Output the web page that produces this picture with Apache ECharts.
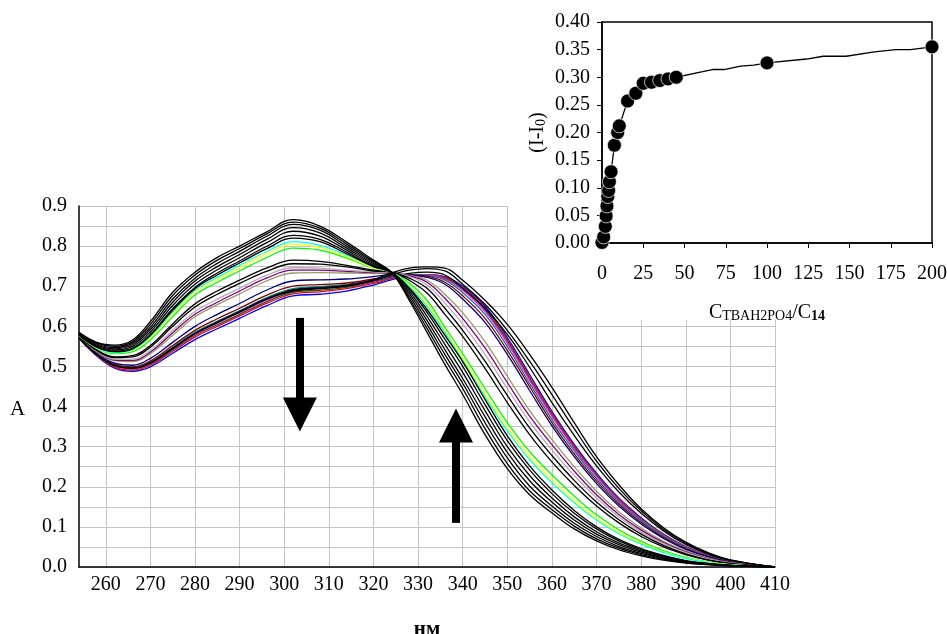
<!DOCTYPE html>
<html><head><meta charset="utf-8">
<script src="https://cdn.jsdelivr.net/npm/echarts@6/dist/echarts.min.js"></script>
<style>html,body{margin:0;padding:0;background:#fff}#c{width:947px;height:634px}</style>
</head><body><div id="c"></div>
<script>
// ---- Main spectra data (wavelength, nm) ----
const wavelengths = [254,258,262,266,270,275,280,285,290,296,302,308,314,320,324,328,332,336,340,345,350,355,360,365,370,375,380,385,390,395,400,410];
const xTickValues = [260,270,280,290,300,310,320,330,340,350,360,370,380,390,400,410];

const curveT1 = [.585,.560,.553,.566,.612,.685,.735,.772,.800,.835,.866,.850,.810,.765,.735,.665,.585,.505,.430,.330,.245,.180,.135,.095,.065,.043,.028,.017,.010,.006,.003,0];
const curveT2 = [.583,.558,.550,.562,.605,.677,.728,.765,.794,.830,.860,.845,.805,.762,.735,.670,.595,.518,.445,.345,.258,.190,.143,.102,.070,.047,.031,.019,.011,.006,.003,0];
const curveT3 = [.582,.556,.547,.558,.598,.668,.720,.757,.787,.824,.854,.840,.800,.759,.735,.676,.605,.530,.458,.360,.272,.202,.152,.109,.076,.051,.034,.021,.012,.007,.004,0];
const curveT4 = [.581,.553,.544,.554,.592,.660,.713,.749,.779,.816,.846,.833,.795,.756,.735,.682,.615,.542,.470,.375,.286,.215,.162,.117,.082,.056,.037,.023,.013,.007,.004,0];
const curveT5 = [.580,.551,.541,.550,.586,.652,.705,.741,.771,.808,.837,.825,.790,.753,.735,.688,.625,.555,.485,.390,.300,.228,.172,.125,.088,.060,.040,.025,.014,.008,.004,0];
const curveT6 = [.579,.549,.538,.546,.580,.644,.697,.733,.763,.799,.827,.817,.785,.750,.735,.693,.635,.568,.500,.405,.315,.242,.183,.134,.095,.065,.043,.027,.015,.008,.004,0];
const curveT7 = [.578,.548,.537,.544,.578,.640,.694,.728,.758,.793,.820,.811,.781,.749,.735,.696,.642,.578,.512,.418,.327,.252,.192,.141,.100,.069,.046,.029,.016,.009,.004,0];
const curveCyan = [.578,.547,.535,.542,.575,.636,.690,.722,.752,.786,.811,.802,.778,.748,.735,.700,.650,.585,.515,.425,.340,.268,.210,.160,.117,.083,.057,.036,.021,.011,.005,0];
const curveYellow = [.578,.546,.534,.540,.571,.631,.685,.717,.746,.780,.805,.797,.774,.746,.735,.703,.655,.590,.522,.433,.348,.276,.218,.166,.122,.087,.060,.038,.022,.012,.006,0];
const curveGreen = [.577,.545,.532,.537,.566,.624,.678,.710,.738,.771,.795,.790,.770,.745,.735,.708,.665,.598,.532,.445,.360,.288,.230,.177,.130,.093,.064,.041,.024,.013,.006,0];
const curveM1 = [.576,.541,.524,.527,.552,.606,.656,.688,.715,.745,.765,.762,.752,.740,.735,.715,.683,.630,.575,.495,.410,.330,.262,.203,.152,.110,.076,.050,.031,.017,.008,0];
const curveM2 = [.576,.540,.522,.524,.548,.600,.648,.680,.707,.737,.756,.755,.748,.738,.735,.720,.695,.645,.590,.513,.428,.347,.278,.216,.162,.118,.082,.054,.033,.018,.009,0];
const curveGray = [.575,.538,.518,.518,.540,.590,.637,.668,.695,.727,.746,.745,.740,.736,.734,.724,.703,.658,.606,.530,.445,.362,.292,.228,.172,.125,.087,.058,.036,.020,.010,0];
const curvePurple = [.575,.537,.516,.515,.536,.584,.630,.660,.688,.720,.740,.740,.737,.734,.733,.726,.710,.670,.620,.546,.460,.376,.305,.239,.180,.131,.092,.061,.038,.021,.011,0];
const curveOlive = [.574,.536,.514,.512,.532,.578,.624,.654,.681,.713,.733,.734,.733,.732,.732,.727,.715,.680,.634,.562,.476,.390,.318,.250,.189,.138,.097,.064,.040,.022,.011,0];
const curveNavy = [.573,.533,.508,.503,.520,.560,.600,.630,.657,.690,.713,.716,.718,.724,.729,.728,.722,.705,.668,.610,.530,.440,.352,.275,.208,.152,.107,.071,.044,.025,.012,0];
const curveDarkRed = [.572,.531,.505,.499,.514,.552,.590,.619,.645,.677,.700,.704,.708,.718,.726,.729,.725,.710,.676,.620,.540,.450,.360,.282,.214,.157,.111,.074,.046,.026,.013,0];
const curveTeal = [.572,.530,.503,.497,.511,.548,.585,.613,.639,.671,.694,.699,.704,.715,.724,.729,.727,.715,.684,.630,.550,.458,.368,.290,.220,.162,.115,.077,.048,.027,.013,0];
const curveL1 = [.572,.530,.503,.497,.510,.546,.583,.611,.637,.669,.692,.698,.703,.714,.724,.732,.735,.728,.695,.645,.580,.498,.410,.328,.252,.187,.134,.090,.056,.032,.016,0];
const curveMagenta = [.571,.529,.501,.495,.508,.544,.580,.608,.634,.665,.689,.694,.700,.712,.722,.728,.728,.718,.690,.637,.558,.466,.376,.296,.226,.166,.118,.079,.049,.028,.014,0];
const curveDarkGreen = [.571,.528,.500,.494,.506,.541,.577,.604,.630,.661,.685,.690,.697,.710,.721,.728,.729,.720,.694,.642,.563,.470,.380,.299,.229,.168,.120,.080,.050,.028,.014,0];
const curveRed = [.570,.527,.498,.491,.503,.538,.573,.600,.626,.657,.681,.686,.694,.707,.719,.727,.729,.722,.697,.646,.567,.474,.384,.302,.231,.170,.121,.081,.050,.029,.014,0];
const curveBlue = [.570,.526,.496,.488,.499,.533,.567,.594,.620,.651,.676,.680,.688,.703,.716,.726,.729,.724,.700,.650,.572,.480,.388,.306,.234,.172,.123,.082,.051,.029,.015,0];
const curveR2 = [.571,.529,.502,.496,.509,.545,.582,.610,.636,.668,.688,.694,.700,.714,.728,.740,.744,.738,.705,.655,.590,.513,.430,.345,.264,.196,.140,.094,.059,.034,.017,0];
const curveR1 = [.571,.529,.502,.496,.509,.545,.582,.610,.636,.668,.690,.696,.702,.716,.733,.745,.748,.745,.715,.665,.605,.530,.448,.360,.275,.205,.145,.098,.062,.036,.018,0];

const curves = [
  [curveBlue,'#0000ff'],[curveRed,'#ff0000'],[curveDarkGreen,'#1e5a1e'],[curveMagenta,'#ff00ff'],
  [curveL1,'#000000'],[curveTeal,'#008080'],[curveDarkRed,'#800000'],[curveNavy,'#000080'],
  [curveOlive,'#999966'],[curvePurple,'#800080'],[curveGray,'#b0b0b0'],[curveM2,'#000000'],[curveM1,'#000000'],
  [curveGreen,'#00ff00'],[curveYellow,'#ffff00'],[curveCyan,'#00ffff'],
  [curveT7,'#000000'],[curveT6,'#000000'],[curveT5,'#000000'],[curveT4,'#000000'],[curveT3,'#000000'],[curveT2,'#000000'],[curveT1,'#000000'],
  [curveR2,'#000000'],[curveR1,'#000000']
];

// arrows (annotation) in data units
const arrowDown = {x:303.5, from:0.621, to:0.38};
const arrowUp = {x:338.5, from:0.11, to:0.353};

// ---- Inset data ----
const ratioX = [0,1,2,2.5,3,3.5,4,4.5,5.5,7.5,9.5,10.5,15.5,20.5,25,30,35,40,45,100,200];
const deltaI = [0.001,0.011,0.030,0.049,0.067,0.084,0.095,0.111,0.129,0.177,0.200,0.212,0.257,0.271,0.289,0.291,0.294,0.297,0.300,0.326,0.355];
const lineExtraX = [61,67,74,84,92];
const lineExtraY = [0.310,0.314,0.314,0.320,0.322];
const lineExtraX2 = [124,134,148,165,178,187];
const lineExtraY2 = [0.333,0.338,0.338,0.346,0.350,0.350];

const FF = "'Liberation Serif','Times New Roman',serif";

const series = curves.map(([vals,color]) => ({
  type:'line', xAxisIndex:0, yAxisIndex:0, showSymbol:false, smooth:0.4,
  silent:true, lineStyle:{color, width:1.3}, z:2,
  data: wavelengths.map((w,i)=>[w, vals[i]])
}));

series[0].markLine = {
  silent:true, symbol:['none','triangle'], symbolSize:34, animation:false,
  label:{show:false}, emphasis:{disabled:true},
  lineStyle:{color:'#000', width:8, type:'solid', cap:'butt'},
  itemStyle:{color:'#000'},
  data:[
    [{coord:[arrowDown.x, arrowDown.from]},{coord:[arrowDown.x, arrowDown.to]}],
    [{coord:[arrowUp.x, arrowUp.from]},{coord:[arrowUp.x, arrowUp.to]}]
  ]
};

// inset line
const insetLine = [];
for (let i=0;i<ratioX.length-2;i++) insetLine.push([ratioX[i], deltaI[i]]);
lineExtraX.forEach((x,i)=>insetLine.push([x, lineExtraY[i]]));
insetLine.push([ratioX[ratioX.length-2], deltaI[deltaI.length-2]]);
lineExtraX2.forEach((x,i)=>insetLine.push([x, lineExtraY2[i]]));
insetLine.push([ratioX[ratioX.length-1], deltaI[deltaI.length-1]]);

series.push({
  type:'line', xAxisIndex:1, yAxisIndex:1, showSymbol:false, silent:true, z:12,
  lineStyle:{color:'#000', width:1.3}, data: insetLine
});
series.push({
  type:'scatter', xAxisIndex:1, yAxisIndex:1, silent:true, z:13, symbolSize:14,
  itemStyle:{color:'#000', borderColor:'#fff', borderWidth:0.7, opacity:1},
  data: ratioX.map((x,i)=>[x, deltaI[i]])
});

const chart = echarts.init(document.getElementById('c'), null, {renderer:'canvas'});
chart.setOption({
  animation:false,
  backgroundColor:'#fff',
  textStyle:{fontFamily:FF},
  grid:[
    {left:79, top:206, width:696, height:361, outerBoundsMode:'none', containLabel:false},
    {left:602, top:22, width:330, height:221, outerBoundsMode:'none', containLabel:false,
     show:true, borderColor:'#000', borderWidth:1.5, backgroundColor:'transparent', z:12}
  ],
  xAxis:[
    {type:'value', gridIndex:0, min:254, max:410,
     name:'нм', nameLocation:'middle', nameGap:52,
     nameTextStyle:{fontFamily:FF, fontSize:21, fontWeight:'bold', color:'#000'},
     axisLine:{show:true, onZero:false, lineStyle:{color:'#000', width:1.5}},
     axisTick:{show:false, customValues:xTickValues},
     axisLabel:{customValues:xTickValues, fontFamily:FF, fontSize:20, color:'#000', margin:8},
     splitLine:{show:true, lineStyle:{color:'#c4c4c4', width:1}}},
    {type:'value', gridIndex:1, min:0, max:200, interval:25, z:12,
     name:'{c|C}{s|TBAH2PO4}{c|/C}{b|14}', nameLocation:'middle', nameGap:56,
     nameTextStyle:{color:'#000', rich:{
       c:{fontFamily:FF, fontSize:20, lineHeight:24, verticalAlign:'bottom', color:'#000'},
       s:{fontFamily:FF, fontSize:14, lineHeight:20, verticalAlign:'bottom', color:'#000'},
       b:{fontFamily:FF, fontSize:14, fontWeight:'bold', lineHeight:10, verticalAlign:'bottom', color:'#000'}}},
     axisLine:{show:true, onZero:false, lineStyle:{color:'#000', width:1.5}},
     axisTick:{show:true, inside:false, length:5, lineStyle:{color:'#000'}},
     axisLabel:{fontFamily:FF, fontSize:20, color:'#000', margin:21},
     splitLine:{show:false}}
  ],
  yAxis:[
    {type:'value', gridIndex:0, min:0, max:0.9, interval:0.05,
     axisLine:{show:true, onZero:false, lineStyle:{color:'#000', width:1.5}},
     axisTick:{show:false},
     axisLabel:{fontFamily:FF, fontSize:20, color:'#000', margin:12,
       formatter:v=> (Math.round(v*100)%10===0 ? v.toFixed(1) : '')},
     splitLine:{show:true, lineStyle:{color:'#c4c4c4', width:1}}},
    {type:'value', gridIndex:1, min:0, max:0.4, interval:0.05, z:12,
     name:'{c|(I-I}{s|0}{c|)}', nameLocation:'middle', nameGap:54, nameRotate:90,
     nameTextStyle:{color:'#000', rich:{
       c:{fontFamily:FF, fontSize:20, lineHeight:24, verticalAlign:'bottom', color:'#000'},
       s:{fontFamily:FF, fontSize:14, lineHeight:10, verticalAlign:'bottom', color:'#000'}}},
     axisLine:{show:true, onZero:false, lineStyle:{color:'#000', width:1.5}},
     axisTick:{show:true, inside:false, length:5, lineStyle:{color:'#000'}},
     axisLabel:{fontFamily:FF, fontSize:20, color:'#000', margin:12, formatter:v=>v.toFixed(2)},
     splitLine:{show:false}}
  ],
  graphic:[
    {type:'rect', z:5, silent:true, shape:{x:508, y:0, width:439, height:320}, style:{fill:'#fff'}},
    {type:'text', z:20, silent:true, left:10, top:399, style:{text:'A', font:"21px 'Liberation Serif', serif", fill:'#000'}}
  ],
  series
});
</script>
</body></html>
